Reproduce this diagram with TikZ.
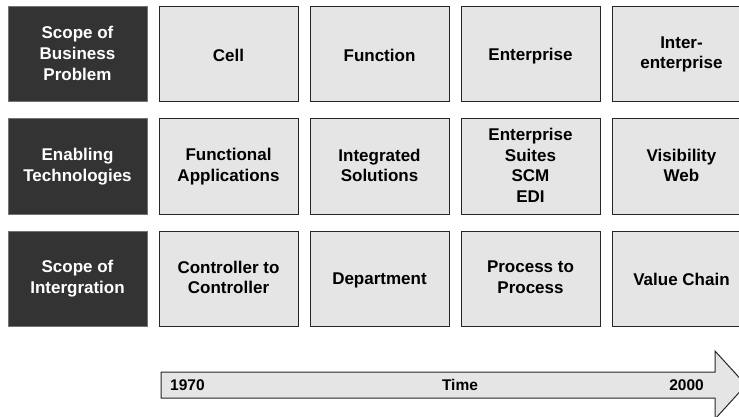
\documentclass[tikz,border=0pt]{standalone}
\usepackage{fontspec}
\setmainfont{Liberation Sans}
\usetikzlibrary{positioning}
\newcommand\cellstrut{\rule[-2.3pt]{0pt}{17.8pt}}

\begin{document}
\begin{tikzpicture}[x=1pt,y=-1pt,
    cellbox/.style={draw=black!85,fill=black!10,line width=1pt,minimum width=139pt,minimum height=95pt,
        align=center,font=\fontsize{17}{20.7}\selectfont\bfseries,
        execute at begin node=\cellstrut,execute at end node=\cellstrut},
    headbox/.style={cellbox,fill=black!80,draw=black!55,text=white},
    timetext/.style={inner sep=0pt,font=\fontsize{15.5}{18}\selectfont\bfseries}]
    \clip (0,0) rectangle (739,417);
    % row headings
    \foreach \name/\txt [count=\r] in {business/{Scope of\\Business\\Problem},technology/{Enabling\\Technologies},integration/{Scope of\\Intergration}}
        \node[headbox] (\name) at (77.5,{54.5+112*(\r-1)}) {\txt};
    % the three rows of stages
    \foreach \txt [count=\c] in {Cell,Function,Enterprise,{Inter-\\enterprise}}
        \node[cellbox] (business-\c) at ({77.5+151*\c},54.5) {\txt};
    \foreach \txt [count=\c] in {{Functional\\Applications},{Integrated\\Solutions},{Enterprise\\Suites\\SCM\\EDI},{Visibility\\Web}}
        \node[cellbox] (technology-\c) at ({77.5+151*\c},166.5) {\txt};
    \foreach \txt [count=\c] in {{Controller to\\Controller},Department,{Process to\\Process},Value Chain}
        \node[cellbox] (integration-\c) at ({77.5+151*\c},278.5) {\txt};
    % time arrow
    \draw[fill=black!10,draw=black!85,line width=1pt] (161,372) coordinate (tail) -- (715,372) -- (715,351)
        -- (746,385) coordinate (tip) -- (715,419) -- (715,398) -- (161,398) -- cycle;
    \node[timetext,anchor=west] (start) at (170,385) {1970};
    \node[timetext] (time) at (460,385) {Time};
    \node[timetext,anchor=east] (end) at (704,385) {2000};
\end{tikzpicture}
\end{document}
